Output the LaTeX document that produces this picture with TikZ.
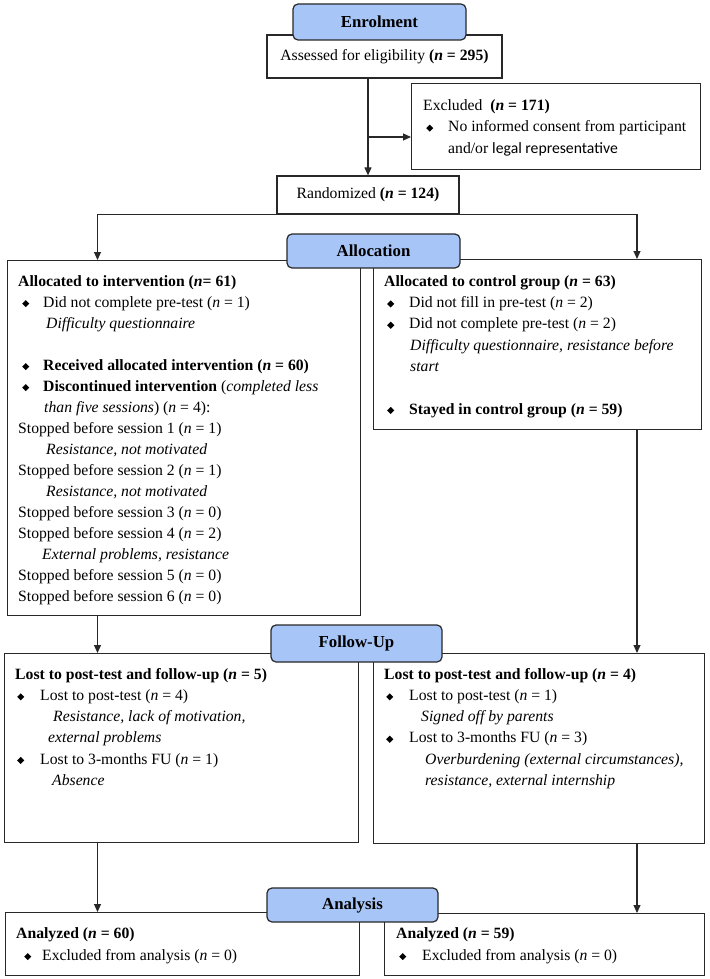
\documentclass[tikz,border=0pt]{standalone}
\usepackage{fontspec}
\setmainfont{Liberation Serif}
\newfontfamily\carl{Carlito}
\usetikzlibrary{arrows.meta}
\definecolor{hdrblue}{RGB}{168,197,247}
\definecolor{edgec}{RGB}{40,40,40}
\newcommand\dmd{\rotatebox{45}{\rule{5pt}{5pt}}}
\newcommand\bu[1][4]{\makebox[25pt][l]{\hspace*{#1pt}\dmd}}
\newcommand\nn{\textit{n}}
\newcommand\fst{\rule{0pt}{13pt}}
\begin{document}
\begin{tikzpicture}[x=1pt,y=-1pt,
  box/.style={draw=edgec, line width=1.2pt, fill=white, inner sep=0pt, anchor=north west},
  cbox/.style={draw=edgec, line width=1.2pt, fill=white, inner sep=0pt, font=\fontsize{15.7}{20}\selectfont},
  hdr/.style={draw=edgec, line width=1.2pt, fill=hdrblue, rounded corners=5pt, inner sep=0pt, font=\fontsize{16.8}{20}\selectfont\bfseries},
  txt/.style={anchor=north west, inner sep=0pt, align=left, font=\fontsize{15.7}{#1}\selectfont},
  arr/.style={draw=edgec, line width=1.1pt, -{Triangle[length=8pt,width=7pt]}}]
\useasboundingbox (0,0) rectangle (709,979);
\fill[white] (0,0) rectangle (709,979);

% boxes
\node[cbox, minimum width=235, minimum height=43] (assess) at (384.5,56.5) {Assessed for eligibility \textbf{(\nn{} = 295)}};
\node[box, minimum width=289, minimum height=86] (excl) at (411,83) {};
\node[cbox, minimum width=182, minimum height=38] (rand) at (368,195) {Randomized \textbf{(\nn{} = 124)}};
\node[box, minimum width=353, minimum height=355] (intv) at (7,260) {};
\node[box, minimum width=328, minimum height=170] (ctrl) at (373,259) {};
\node[box, minimum width=354, minimum height=189] (lostL) at (4,653) {};
\node[box, minimum width=331, minimum height=190] (lostR) at (373,653) {};
\node[box, minimum width=354, minimum height=63] (anL) at (5,912) {};
\node[box, minimum width=320, minimum height=62] (anR) at (384,913) {};

% connectors
\coordinate (cL) at (97.5,0);
\coordinate (cR) at (637,0);
\coordinate (j1) at (368,137);
\draw[arr] (assess.south -| rand.north) -- (rand.north);
\draw[arr] (j1) -- (j1 -| excl.west);
\draw[arr] (rand.south) -| (cL |- intv.north);
\draw[arr] (rand.south) -| (cR |- ctrl.north);
\draw[arr] (cL |- intv.south) -- (cL |- lostL.north);
\draw[arr] (cR |- ctrl.south) -- (cR |- lostR.north);
\draw[arr] (cL |- lostL.south) -- (cL |- anL.north);
\draw[arr] (cR |- lostR.south) -- (cR |- anR.north);

% texts
\node[txt=21.5] (tExcl) at (423,97) {\fst Excluded\ \ \textbf{(\nn{} = 171)}\\
\bu[3]No informed consent from participant\\
\hspace*{25pt}and/or {\carl legal representative}};

\node[txt=21] (tIntv) at (18,273) {\fst\textbf{Allocated to intervention (\nn= 61)}\\
\bu Did not complete pre-test (\nn{} = 1)\\
\hspace*{28pt}\textit{Difficulty questionnaire}\\[21pt]
\bu\textbf{Received allocated intervention (\nn{} = 60)}\\
\bu\textbf{Discontinued intervention} (\textit{completed less}\\
\hspace*{26pt}\textit{than five sessions}) (\nn{} = 4):\\
Stopped before session 1 (\nn{} = 1)\\
\hspace*{28pt}\textit{Resistance, not motivated}\\
Stopped before session 2 (\nn{} = 1)\\
\hspace*{28pt}\textit{Resistance, not motivated}\\
Stopped before session 3 (\nn{} = 0)\\
Stopped before session 4 (\nn{} = 2)\\
\hspace*{24pt}\textit{External problems, resistance}\\
Stopped before session 5 (\nn{} = 0)\\
Stopped before session 6 (\nn{} = 0)};

\node[txt=21.3] (tCtrl) at (384,273) {\fst\textbf{Allocated to control group (\nn{} = 63)}\\
\bu[3]Did not fill in pre-test (\nn{} = 2)\\
\bu[3]Did not complete pre-test (\nn{} = 2)\\
\hspace*{26pt}\textit{Difficulty questionnaire, resistance before}\\
\hspace*{26pt}\textit{start}\\[21.3pt]
\bu[3]\textbf{Stayed in control group (\nn{} = 59)}};

\node[txt=21.2] (tLostL) at (15,666) {\fst\textbf{Lost to post-test and follow-up (\nn{} = 5)}\\
\bu[2]Lost to post-test (\nn{} = 4)\\
\hspace*{38pt}\textit{Resistance, lack of motivation,}\\
\hspace*{33pt}\textit{external problems}\\
\bu[2]Lost to 3-months FU (\nn{} = 1)\\
\hspace*{37pt}\textit{Absence}};

\node[txt=21.2] (tLostR) at (384,666) {\fst\textbf{Lost to post-test and follow-up (\nn{} = 4)}\\
\bu[2]Lost to post-test (\nn{} = 1)\\
\hspace*{37pt}\textit{Signed off by parents}\\
\bu[2]Lost to 3-months FU (\nn{} = 3)\\
\hspace*{41pt}\textit{Overburdening (external circumstances),}\\
\hspace*{41pt}\textit{resistance, external internship}};

\node[txt=22] (tAnL) at (16,925) {\fst\textbf{Analyzed (\nn{} = 60)}\\
\makebox[26pt][l]{\hspace*{8pt}\dmd}Excluded from analysis (\nn{} = 0)};

\node[txt=22] (tAnR) at (396,925) {\fst\textbf{Analyzed (\nn{} = 59)}\\
\makebox[26pt][l]{\hspace*{3pt}\dmd}Excluded from analysis (\nn{} = 0)};

% headers
\node[hdr, minimum width=173, minimum height=36] (hEnr) at (379.5,22) {Enrolment};
\node[hdr, minimum width=173, minimum height=34] (hAll) at (373.5,251) {Allocation};
\node[hdr, minimum width=171, minimum height=37] (hFu) at (356.5,643.5) {Follow-Up};
\node[hdr, minimum width=171, minimum height=34] (hAn) at (352.5,905) {Analysis};
\end{tikzpicture}
\end{document}
